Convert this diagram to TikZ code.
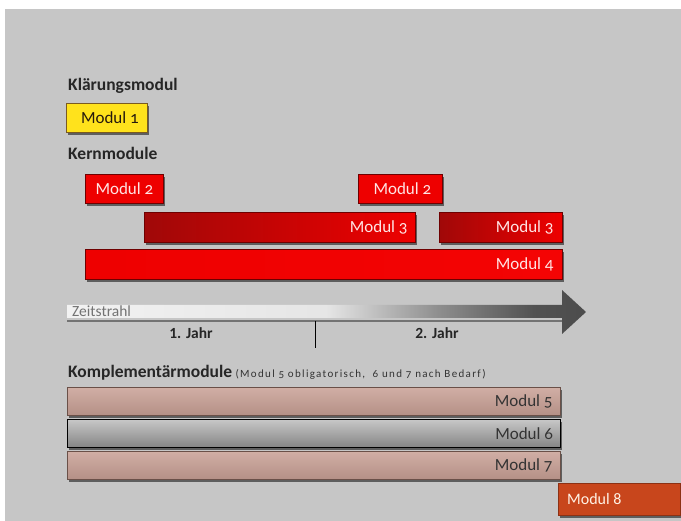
\documentclass[tikz,border=0pt]{standalone}
\usepackage{fontspec}
\setmainfont{Carlito}[Numbers=OldStyle]
\usetikzlibrary{shadows,positioning}

\definecolor{bggray}{HTML}{C6C6C6}
\definecolor{kred}{HTML}{EE0000}
\definecolor{kredlight}{HTML}{F40404}
\definecolor{kreddark}{HTML}{A00808}
\definecolor{kborder}{HTML}{6E0000}
\definecolor{kyellow}{HTML}{FFE21C}
\definecolor{kyellowborder}{HTML}{7A5A20}
\definecolor{krose}{HTML}{C9A095}
\definecolor{kroseborder}{HTML}{6A5048}
\definecolor{korange}{HTML}{C8461C}
\definecolor{kpink}{HTML}{FFE4E4}

\pgfdeclarehorizontalshading{zeitstrahl}{100bp}{color(0bp)=(black!5); color(25bp)=(black!5); color(50bp)=(black!10); color(61bp)=(black!45); color(70bp)=(black!68); color(75bp)=(black!70); color(100bp)=(black!70)}

\begin{document}
\begin{tikzpicture}[x=1pt,y=-1pt,
    modbox/.style={anchor=north west, inner sep=0pt, line width=0.8pt,
      drop shadow={shadow xshift=1.2pt, shadow yshift=-2.5pt, opacity=.7, fill=black!80}},
    redbox/.style={modbox, draw=kborder, fill=kred},
    yellowbox/.style={modbox, draw=kyellowborder, fill=kyellow},
    rosebox/.style={modbox, draw=kroseborder, top color=krose!85!white, bottom color=krose!90!black},
    graybox/.style={modbox, draw=black, line width=1.2pt, top color=black!22, bottom color=black!48},
    orangebox/.style={modbox, draw=korange!70!black, fill=korange},
    modtext/.style={font=\fontsize{17}{20}\selectfont, inner sep=0pt},
    headtext/.style={font=\fontsize{17.5}{20}\selectfont\bfseries, text=black!85, anchor=base west, inner sep=0pt}
  ]

    % background
    \useasboundingbox (0,0) rectangle (681,521);
    \fill[bggray] (5,9) rectangle (681,521);

    % Klaerungsmodul
    \node[headtext] (hklaer) at (68,91) {Klärungsmodul};
    \node[yellowbox, minimum width=81pt, minimum height=29pt] (m1) at (66,103) {};
    \node[modtext, text=black!80!brown] (t1) at ([xshift=3pt]m1.center) {Modul 1};

    % Kernmodule
    \node[headtext] (hkern) at (68,160) {Kernmodule};
    \node[redbox, minimum width=78pt, minimum height=29pt] (m2a) at (85,174) {};
    \node[redbox, minimum width=84pt, minimum height=29pt] (m2b) at (358,174) {};
    \node[redbox, left color=kreddark, right color=kred, minimum width=271pt, minimum height=30pt] (m3a) at (144,212) {};
    \node[redbox, left color=kreddark, right color=kred, minimum width=123pt, minimum height=30pt] (m3b) at (439,212) {};
    \node[redbox, left color=kred, right color=kredlight, minimum width=477pt, minimum height=30pt] (m4) at (85,249) {};
    \node[modtext, text=kpink] (t2a) at (m2a.center) {Modul 2};
    \node[modtext, text=kpink] (t2b) at ([xshift=2pt]m2b.center) {Modul 2};
    \node[modtext, text=kpink, anchor=east] (t3a) at ([xshift=-8pt]m3a.east) {Modul 3};
    \node[modtext, text=kpink, anchor=east] (t3b) at ([xshift=-9pt]m3b.east) {Modul 3};
    \node[modtext, text=kpink, anchor=east] (t4) at ([xshift=-9pt]m4.east) {Modul 4};

    % Zeitstrahl
    \coordinate (zs) at (67,311.5);
    \coordinate (ze) at (586,312);
    \shade[shading=zeitstrahl] (67,305) -- (562,305) -- (562,290) -- (ze) -- (562,334) -- (562,318) -- (67,318) -- cycle;
    \draw[black!55, line width=1.6pt] (67,321) -- (562,321);
    \node[font=\fontsize{15.5}{18}\selectfont, text=black!55, anchor=base west, inner sep=0pt] (tz) at (72,317) {Zeitstrahl};
    \coordinate (tick) at (315,321);
    \draw[black, line width=0.8pt] (tick) -- ++(0,27);
    \node[font=\fontsize{15.5}{18}\selectfont\bfseries\addfontfeatures{Numbers=Lining}, text=black!85, anchor=base, inner sep=0pt] (j1) at (191,339) {1. Jahr};
    \node[font=\fontsize{15.5}{18}\selectfont\bfseries\addfontfeatures{Numbers=Lining}, text=black!85, anchor=base, inner sep=0pt] (j2) at (437,339) {2. Jahr};

    % Komplementaermodule
    \node[headtext] (hkompl) at (68,378) {Komplementärmodule};
    \node[font=\fontsize{11}{13}\selectfont\addfontfeatures{LetterSpace=12}, text=black!80, inner sep=0pt, right=3pt of hkompl.base east, anchor=base west] (hinfo) {(Modul 5 obligatorisch,\ \ 6 und 7 nach Bedarf)};
    \foreach \n/\y/\s in {5/387/rosebox, 6/419/graybox, 7/451/rosebox}
    {
      \node[\s, minimum width=493pt, minimum height=28pt] (m\n) at (67,\y) {};
      \node[modtext, text=black!80, anchor=east] (t\n) at ([xshift=-8pt]m\n.east) {Modul \n};
    }

    % Modul 8
    \node[orangebox, minimum width=122pt, minimum height=32pt] (m8) at (558,483) {};
    \node[modtext, text=white!90!orange, anchor=west, font=\fontsize{16}{19}\selectfont\addfontfeatures{Numbers=Lining}] (t8) at ([xshift=9pt]m8.west) {Modul 8};

\end{tikzpicture}
\end{document}
